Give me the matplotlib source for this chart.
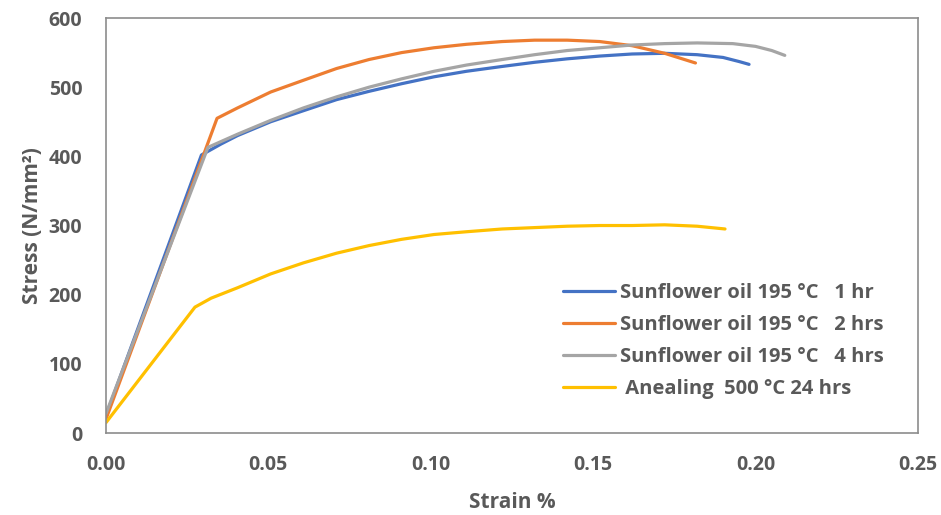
import matplotlib
matplotlib.use("Agg")
from matplotlib import pyplot as plt

# strain (%) / stress (N/mm2)
strain_1hr = [0.0, 0.0294, 0.0355, 0.0405, 0.0507, 0.0608, 0.071, 0.081, 0.091, 0.101, 0.111,
              0.122, 0.132, 0.142, 0.152, 0.162, 0.172, 0.182, 0.19, 0.195, 0.198]
stress_1hr = [25, 402, 418, 430, 450, 466, 482, 494, 505, 515, 523, 530, 536,
              541, 545, 548, 549, 547, 543, 537, 533]

strain_2hrs = [0.0, 0.0342, 0.0405, 0.0507, 0.0608, 0.071, 0.081, 0.091, 0.101, 0.111, 0.122,
               0.132, 0.142, 0.152, 0.162, 0.172, 0.1815]
stress_2hrs = [20, 455, 470, 493, 510, 527, 540, 550, 557, 562, 566, 568,
               568, 566, 560, 549, 535]

strain_4hrs = [0.0, 0.0314, 0.0405, 0.0507, 0.0608, 0.071, 0.081, 0.091, 0.101, 0.111, 0.122,
               0.132, 0.142, 0.152, 0.162, 0.172, 0.182, 0.193, 0.2, 0.205, 0.209]
stress_4hrs = [28, 413, 432, 452, 470, 486, 500, 512, 523, 532, 540, 547, 553,
               557, 561, 563, 564, 563, 559, 553, 546]

strain_anneal = [0.0, 0.0274, 0.0324, 0.0405, 0.0507, 0.0608, 0.071, 0.081, 0.091, 0.101, 0.111,
                 0.122, 0.132, 0.142, 0.152, 0.162, 0.172, 0.182, 0.1906]
stress_anneal = [15, 182, 195, 210, 230, 246, 260, 271, 280, 287, 291, 295,
                 297, 299, 300, 300, 301, 299, 295]

labels = ["Sunflower oil 195 \u00b0C   1 hr",
          "Sunflower oil 195 \u00b0C   2 hrs",
          "Sunflower oil 195 \u00b0C   4 hrs",
          " Anealing  500 \u00b0C 24 hrs"]
colors = ["#4472C4", "#ED7D31", "#A5A5A5", "#FFC000"]

text_color = "#595959"
plt.rcParams["font.family"] = ["Open Sans", "DejaVu Sans"]
plt.rcParams["font.weight"] = "bold"

fig = plt.figure(figsize=(9.41, 5.15), dpi=100)
ax = fig.add_axes([0.1126, 0.1592, 0.8629, 0.8058])

series = [(strain_1hr, stress_1hr), (strain_2hrs, stress_2hrs),
          (strain_4hrs, stress_4hrs), (strain_anneal, stress_anneal)]
for (x, y), label, color in zip(series, labels, colors):
    ax.plot(x, y, color=color, lw=2.3, label=label, solid_capstyle="round")

ax.set_xlim(0, 0.25)
ax.set_ylim(0, 600)
ax.set_xticks([0.0, 0.05, 0.10, 0.15, 0.20, 0.25])
ax.set_xticklabels(["0.00", "0.05", "0.10", "0.15", "0.20", "0.25"])
ax.set_yticks(range(0, 601, 100))
ax.tick_params(length=0, labelsize=14, labelcolor=text_color)
ax.tick_params(axis="x", pad=16)
ax.tick_params(axis="y", pad=17)
for label in ax.get_xticklabels() + ax.get_yticklabels():
    label.set_fontweight("bold")
for spine in ax.spines.values():
    spine.set_color("#8c8c8c")
    spine.set_linewidth(1.2)

ax.set_xlabel("Strain %", fontsize=15, fontweight="bold", color=text_color, labelpad=12)
ax.set_ylabel("Stress (N/mm\u00b2)", fontsize=15, fontweight="bold", color=text_color, labelpad=4)

leg = ax.legend(loc="upper left", bbox_to_anchor=(0.553, 0.381), frameon=False,
                prop={"size": 14.5, "weight": "bold"}, handlelength=2.6, handletextpad=0.25,
                labelspacing=0.59, borderaxespad=0.0)
for text in leg.get_texts():
    text.set_color(text_color)

fig.savefig("out.png", dpi=100)
